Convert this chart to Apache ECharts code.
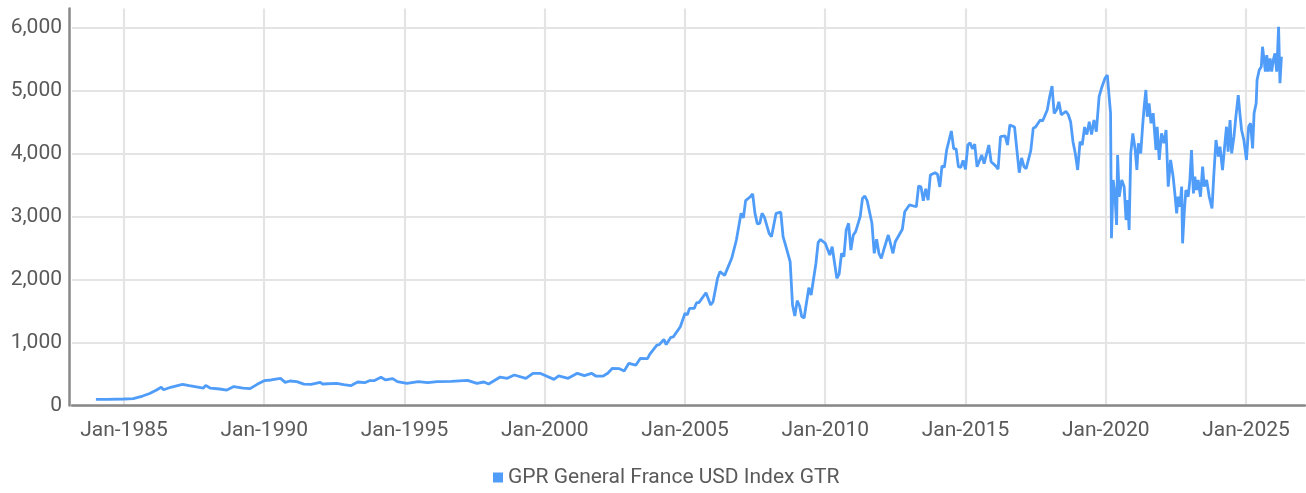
<!DOCTYPE html>
<html><head><meta charset="utf-8">
<script src="https://cdn.jsdelivr.net/npm/echarts@6/dist/echarts.min.js"></script>
<style>html,body{margin:0;padding:0;background:#fff}#c{width:1306px;height:493px}</style>
</head><body><div id="c"></div><script>
const seriesName = 'GPR General France USD Index GTR';
const tickYears = [1985, 1990, 1995, 2000, 2005, 2010, 2015, 2020, 2025];
const tickLabels = ['Jan-1985','Jan-1990','Jan-1995','Jan-2000','Jan-2005','Jan-2010','Jan-2015','Jan-2020','Jan-2025'];
const axisStart = '1983-02-24';
const axisEnd = '2027-02-08';

const dates = [
'1984-01-01','1984-06-01','1985-01-01','1985-05-01','1985-09-01','1985-12-01','1986-03-01','1986-05-01','1986-06-01','1986-09-01',
'1987-02-01','1987-05-01','1987-11-01','1987-12-01','1988-02-01','1988-06-01','1988-09-01','1988-12-01','1989-04-01','1989-07-01',
'1989-10-01','1990-01-01','1990-04-01','1990-08-01','1990-10-01','1990-12-01','1991-03-01','1991-06-01','1991-09-01','1992-01-01',
'1992-02-01','1992-08-01','1992-11-01','1993-02-01','1993-05-01','1993-08-01','1993-10-01','1993-12-01','1994-03-01','1994-05-01',
'1994-08-01','1994-10-01','1995-02-01','1995-07-01','1995-11-01','1996-03-01','1996-09-01','1997-04-01','1997-08-01','1997-11-01',
'1998-01-01','1998-06-01','1998-09-01','1998-12-01','1999-05-01','1999-08-01','1999-11-01','2000-05-01','2000-07-01','2000-11-01',
'2001-03-01','2001-06-01','2001-09-01','2001-11-01','2002-02-01','2002-04-01','2002-06-01','2002-09-01','2002-11-01','2003-01-01',
'2003-04-01','2003-06-01','2003-09-01','2003-10-01','2004-01-01','2004-02-01','2004-04-01','2004-05-01','2004-07-01','2004-08-01',
'2004-11-01','2005-01-01','2005-02-01','2005-03-01','2005-05-01','2005-06-01','2005-07-01','2005-10-01','2005-12-01','2006-01-01',
'2006-03-01','2006-04-01','2006-06-01','2006-09-01','2006-11-01','2007-01-01','2007-02-01','2007-03-01','2007-05-01','2007-06-01',
'2007-07-01','2007-08-01','2007-09-01','2007-10-01','2007-11-01','2008-01-01','2008-02-01','2008-04-01','2008-06-01','2008-07-01',
'2008-08-01','2008-10-01','2008-11-01','2008-12-01','2009-01-01','2009-02-01','2009-03-01','2009-04-01','2009-06-01','2009-07-01',
'2009-09-01','2009-10-01','2009-11-01','2010-01-01','2010-03-01','2010-04-01','2010-06-01','2010-07-01','2010-08-01','2010-09-01',
'2010-10-01','2010-11-01','2010-12-01','2011-01-01','2011-02-01','2011-04-01','2011-05-01','2011-06-01','2011-07-01','2011-09-01',
'2011-10-01','2011-11-01','2011-12-01','2012-01-01','2012-02-01','2012-04-01','2012-06-01','2012-07-01','2012-10-01','2012-11-01',
'2013-01-01','2013-04-01','2013-05-01','2013-06-01','2013-07-01','2013-08-01','2013-09-01','2013-10-01','2013-12-01','2014-01-01',
'2014-02-01','2014-03-01','2014-04-01','2014-05-01','2014-07-01','2014-08-01','2014-09-01','2014-10-01','2014-11-01','2014-12-01',
'2015-01-01','2015-02-01','2015-03-01','2015-04-01','2015-05-01','2015-06-01','2015-08-01','2015-09-01','2015-11-01','2015-12-01',
'2016-02-01','2016-03-01','2016-04-01','2016-06-01','2016-07-01','2016-08-01','2016-10-01','2016-11-01','2016-12-01','2017-01-01',
'2017-02-01','2017-03-01','2017-05-01','2017-06-01','2017-07-01','2017-09-01','2017-10-01','2017-12-01','2018-01-01','2018-02-01',
'2018-03-01','2018-04-01','2018-05-01','2018-06-01','2018-08-01','2018-09-01','2018-10-01','2018-11-01','2018-12-01','2019-01-01',
'2019-02-01','2019-03-01','2019-04-01','2019-05-01','2019-06-01','2019-07-01','2019-08-01','2019-09-01','2019-10-07','2019-11-07',
'2019-12-22','2020-01-22','2020-02-16','2020-03-04','2020-03-16','2020-04-07','2020-04-28','2020-05-22','2020-06-04','2020-06-25',
'2020-07-28','2020-08-28','2020-09-22','2020-10-13','2020-11-01','2020-11-22','2020-12-19','2021-01-19','2021-02-10','2021-03-01',
'2021-04-01','2021-04-25','2021-05-16','2021-06-07','2021-06-25','2021-07-19','2021-08-13','2021-09-10','2021-10-16','2021-11-01',
'2021-11-28','2021-12-28','2022-01-28','2022-02-25','2022-03-25','2022-04-25','2022-05-28','2022-06-19','2022-07-13','2022-08-01',
'2022-08-25','2022-09-16','2022-09-28','2022-10-19','2022-11-10','2022-12-10','2023-01-01','2023-01-22','2023-02-16','2023-03-07',
'2023-03-28','2023-04-19','2023-05-19','2023-06-16','2023-07-07','2023-08-07','2023-09-10','2023-10-16','2023-11-10','2023-12-07',
'2024-01-07','2024-01-28','2024-03-01','2024-04-01','2024-04-22','2024-05-13','2024-06-07','2024-06-28','2024-07-28','2024-08-22',
'2024-09-22','2024-10-13','2024-11-04','2024-12-04','2025-01-07','2025-02-04','2025-03-01','2025-03-28','2025-04-16','2025-05-13',
'2025-05-25','2025-06-22','2025-07-19','2025-08-04','2025-08-22','2025-09-10','2025-09-28','2025-10-19','2025-11-10','2025-12-01',
'2025-12-22','2026-01-13','2026-02-04','2026-02-16','2026-03-01','2026-03-19','2026-04-07'
];
const values = [
98,96,103,110,150,190,246,289,250,289,
336,315,275,320,275,262,245,300,275,268,
336,394,405,431,368,389,378,340,336,368,
341,352,330,315,373,362,394,394,447,405,
426,378,352,378,362,378,383,400,352,373,
341,452,431,484,431,511,511,415,470,431,
511,475,511,465,468,511,590,585,548,669,
640,749,745,817,960,967,1050,967,1082,1090,
1251,1463,1440,1542,1542,1632,1632,1790,1595,1647,
2019,2124,2066,2336,2627,3050,2980,3251,3314,3357,
3050,2881,2890,3050,2990,2733,2680,3050,3070,2680,
2548,2283,1595,1420,1664,1580,1411,1390,1870,1754,
2250,2590,2635,2575,2389,2521,2019,2087,2416,2362,
2786,2892,2468,2706,2760,2997,3288,3325,3250,2892,
2416,2638,2416,2336,2468,2706,2416,2600,2797,3076,
3183,3155,3484,3470,3250,3440,3260,3659,3695,3670,
3470,3802,3780,4055,4357,4075,4075,3790,3780,3890,
3749,4135,4172,4075,4150,3790,3976,3840,4135,3870,
3800,3750,4267,4280,4135,4452,4420,4050,3695,3930,
3790,3760,4050,4400,4420,4532,4515,4690,4901,5071,
4638,4690,4820,4615,4670,4615,4505,4187,4000,3738,
4187,4135,4420,4300,4505,4300,4532,4346,4901,5035,
5193,5246,5265,4640,2654,3579,3370,2865,3976,3314,
3579,3474,2944,3262,2786,4003,4320,4056,3738,4162,
4003,4425,4743,5008,4584,4796,4480,4640,4056,4425,
3897,4320,4162,4373,3473,3897,3632,3368,3050,3314,
3155,3474,2574,3050,3420,3314,3579,4056,3368,3632,
3420,3579,3314,3791,3474,3579,3314,3130,3685,4214,
3950,4108,3738,4162,4425,4030,4532,4003,4267,4584,
4928,4638,4373,4214,3897,4425,4480,4082,4638,4796,
5167,5325,5378,5695,5722,5300,5563,5300,5510,5300,
5484,5590,5300,5616,6013,5115,5537
];

const parseD = s => { const p = s.split('-').map(Number); return Date.UTC(p[0], p[1]-1, p[2]); };
const seriesData = dates.map((d, i) => [parseD(d), values[i]]);
const tickValues = tickYears.map(y => Date.UTC(y, 0, 1));
const labelFor = {};
tickYears.forEach((y, i) => { labelFor[y] = tickLabels[i]; });

const FONT = 'Roboto, "Noto Sans", sans-serif';
const chart = echarts.init(document.getElementById('c'), null, {renderer: 'canvas'});
chart.setOption({
  animation: false,
  backgroundColor: '#ffffff',
  grid: {left: 72, right: 1, top: 8.6, bottom: 87.5, containLabel: false},
  legend: {
    data: [seriesName], left: 493, top: 467, padding: 0,
    icon: 'rect', itemWidth: 10, itemHeight: 10,
    textStyle: {fontFamily: FONT, fontSize: 21, color: '#5a5a5a'}
  },
  xAxis: {
    type: 'value', min: parseD(axisStart), max: parseD(axisEnd), offset: 3,
    axisLine: {show: true, lineStyle: {color: '#888888', width: 2.5}},
    axisTick: {show: false, customValues: tickValues},
    axisLabel: {customValues: tickValues, margin: 12, fontFamily: FONT, fontSize: 21, color: '#5a5a5a',
      formatter: v => labelFor[new Date(v).getUTCFullYear()] || ''},
    splitLine: {show: true, lineStyle: {color: '#e4e4e4', width: 2.2}}
  },
  yAxis: {
    type: 'value', min: 0, max: 6300, interval: 1000, offset: 3,
    axisLine: {show: true, lineStyle: {color: '#888888', width: 2.5}},
    axisTick: {show: false},
    axisLabel: {showMaxLabel: false, margin: 7, fontFamily: FONT, fontSize: 21, color: '#5a5a5a'},
    splitLine: {show: true, showMaxLine: false, lineStyle: {color: '#e4e4e4', width: 2.2}}
  },
  series: [{
    name: seriesName, type: 'line', data: seriesData, showSymbol: false, symbol: 'none',
    lineStyle: {color: '#4f9cf9', width: 2.8}, itemStyle: {color: '#4f9cf9'}
  }]
});
</script></body></html>
